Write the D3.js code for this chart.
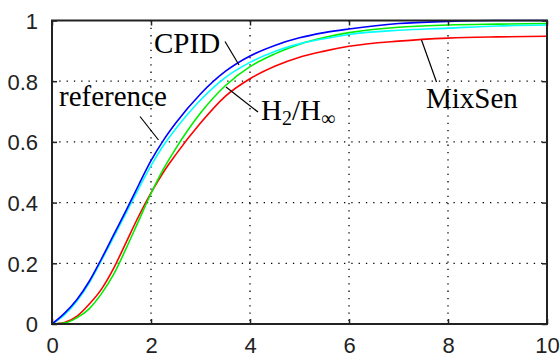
<!DOCTYPE html>
<html><head><meta charset="utf-8">
<script src="https://cdn.jsdelivr.net/npm/d3@7"></script>
<style>body{margin:0;background:#fff;}svg{display:block;}</style>
</head><body>
<svg id="c" width="560" height="361"></svg>
<script>
const t = [0,0.25,0.5,0.75,1,1.25,1.5,1.75,2,2.25,2.5,3,3.5,4,4.5,5,5.5,6,7,8,9,10];
const reference = [0,0.03,0.075,0.135,0.21,0.288,0.367,0.446,0.522,0.588,0.643,0.738,0.812,0.862,0.898,0.923,0.94,0.954,0.968,0.975,0.982,0.985];
const cpid      = [0,0.035,0.08,0.14,0.215,0.295,0.375,0.458,0.538,0.605,0.662,0.758,0.832,0.883,0.918,0.943,0.96,0.972,0.99,0.997,1,1];
const h2hinf    = [0,0.003,0.02,0.05,0.1,0.165,0.25,0.34,0.43,0.51,0.578,0.695,0.785,0.848,0.89,0.922,0.944,0.96,0.978,0.985,0.988,0.99];
const mixsen    = [0,0.005,0.025,0.065,0.115,0.185,0.27,0.355,0.432,0.5,0.558,0.662,0.75,0.808,0.849,0.879,0.899,0.915,0.932,0.942,0.946,0.948];
const xTicks = [0,2,4,6,8,10];
const yTicks = [0,0.2,0.4,0.6,0.8,1];

const svg = d3.select("#c");
const L=52, R=547, T=20.5, B=324;
const x = d3.scaleLinear().domain([0,10]).range([L,R]);
const y = d3.scaleLinear().domain([0,1]).range([B,T]);

// grid
const g = svg.append("g");
g.selectAll(".gx").data(xTicks.slice(1,-1)).enter().append("line")
 .attr("x1",d=>x(d)).attr("x2",d=>x(d)).attr("y1",T).attr("y2",B)
 .attr("stroke","#000").attr("stroke-width",1.3).attr("stroke-dasharray","1.3,6");
g.selectAll(".gy").data(yTicks.slice(0,-1)).enter().append("line")
 .attr("x1",L).attr("x2",R).attr("y1",d=>y(d)).attr("y2",d=>y(d))
 .attr("stroke","#000").attr("stroke-width",1.3).attr("stroke-dasharray","1.3,6");

// curves
const line = d3.line().x((d,i)=>x(t[i])).y(d=>y(d)).curve(d3.curveMonotoneX);
const series = [[mixsen,"#ff0000"],[h2hinf,"#00ee00"],[reference,"#00ffff"],[cpid,"#0000ff"]];
series.forEach(([s,c])=>{
  svg.append("path").attr("d",line(s)).attr("fill","none").attr("stroke",c).attr("stroke-width",1.6);
});

// axes box
svg.append("rect").attr("x",L).attr("y",T).attr("width",R-L).attr("height",B-T)
 .attr("fill","none").attr("stroke","#222").attr("stroke-width",2);
const xb = d3.axisBottom(x).tickValues(xTicks).tickSize(-5).tickPadding(12).tickFormat(d3.format("d"));
const xa = svg.append("g").attr("transform",`translate(0,${B})`).call(xb);
const xt = d3.axisTop(x).tickValues(xTicks).tickSize(-5).tickFormat("");
svg.append("g").attr("transform",`translate(0,${T})`).call(xt);
const yl = d3.axisLeft(y).tickValues(yTicks).tickSize(-5).tickPadding(14).tickFormat(d=>d===0?"0":d===1?"1":d3.format(".1f")(d));
const ya = svg.append("g").attr("transform",`translate(${L},0)`).call(yl);
const yr = d3.axisRight(y).tickValues(yTicks).tickSize(-5).tickFormat("");
svg.append("g").attr("transform",`translate(${R},0)`).call(yr);
svg.selectAll(".domain").remove();
svg.selectAll(".tick line").attr("stroke","#222").attr("stroke-width",1.5);
svg.selectAll(".tick text").style("font-family","'Liberation Sans', Arial, sans-serif").style("font-size","22px").attr("fill","#222");
xa.selectAll(".tick text").attr("dy","0.75em");
ya.selectAll(".tick text").attr("dy","0.36em");

// annotations
const ann = svg.append("g").style("font-family","'Liberation Serif', 'Times New Roman', serif").attr("fill","#000").style("font-size","29px");
ann.append("text").attr("x",154).attr("y",53).text("CPID");
ann.append("text").attr("x",59).attr("y",106).text("reference");
ann.append("text").attr("x",426).attr("y",108).text("MixSen");
const h = ann.append("text").attr("x",261).attr("y",120);
h.append("tspan").text("H");
h.append("tspan").style("font-size","20px").attr("dy",5).text("2");
h.append("tspan").attr("dy",-5).text("/H");
h.append("tspan").style("font-size","20px").attr("dy",5).text("∞");

const ptr = [[225,41.5,239,65],[140,116.5,158.5,140],[226,87,258,112],[421.5,40,436.5,82]];
svg.selectAll(".ptr").data(ptr).enter().append("line")
 .attr("x1",d=>d[0]).attr("y1",d=>d[1]).attr("x2",d=>d[2]).attr("y2",d=>d[3])
 .attr("stroke","#000").attr("stroke-width",1.2);
</script>
</body></html>
